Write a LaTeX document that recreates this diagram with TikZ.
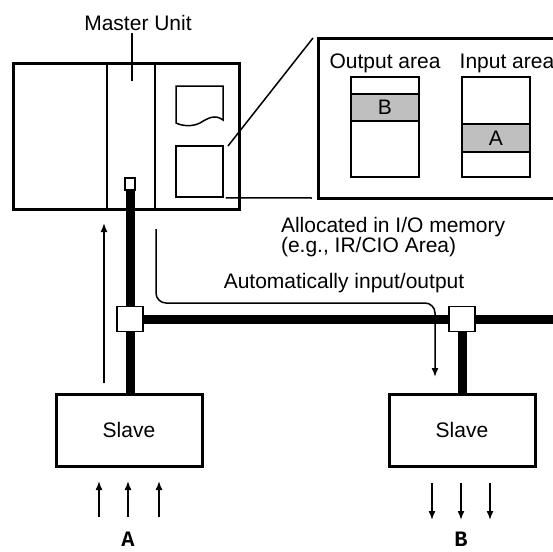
\documentclass[tikz,border=0pt]{standalone}
\usepackage{fontspec}
\setmainfont{Liberation Sans}
\newfontfamily\markfont{Liberation Mono}
\usetikzlibrary{positioning,arrows.meta}

\begin{document}
\begin{tikzpicture}
    [x=0.5pt,y=-0.5pt,font=\fontsize{10.5}{10}\selectfont,
     thickline/.style={line width=1.5pt},
     thinline/.style={line width=0.75pt},
     cable/.style={line width=4.5pt},
     arrow/.style={thinline, -{Latex[length=4.5pt,width=3.5pt]}},
     unitbox/.style={draw, thickline, inner sep=0pt},
     slave/.style={unitbox, minimum width=73pt, minimum height=36pt},
     junction/.style={draw, thinline, fill=white, minimum width=13pt, minimum height=12.5pt, inner sep=0pt},
     column/.style={draw, thinline, minimum width=34pt, minimum height=50pt, inner sep=0pt},
     band/.style={draw, thinline, fill=gray!50, minimum width=34pt, inner sep=0pt},
     iolabel/.style={font=\markfont\bfseries\fontsize{11}{11}\selectfont, inner sep=1pt}]
  \useasboundingbox (0,0) rectangle (553,552);

  % master unit
  \node[unitbox, minimum width=113pt, minimum height=73pt] (master) at (126,136) {};
  \draw[thinline] (107,63) -- (107,209);
  \draw[thinline] (155,63) -- (155,209);
  \node (mlabel) at (138,23) {Master Unit};
  \draw[thinline] (132,33) -- (132,81);
  \draw[thinline] (223,120) .. controls (215,114) and (208,118) .. (200,123)
    .. controls (192,127) and (182,126) .. (176,123) -- (176,86) -- (223,86) -- cycle;
  \node[draw, thinline, minimum width=23.5pt, minimum height=25.5pt, inner sep=0pt] (memsq) at (199.5,171.5) {};
  \node[draw, thinline, minimum width=5pt, minimum height=6pt, inner sep=0pt] (plug) at (130,184) {};

  % memory areas
  \draw[thickline] (600,38) -- (318,38) -- (318,198) -- (600,198);
  \draw[thinline] (228,146) -- (313,38);
  \draw[thinline] (memsq.south east) ++(2,0) -- (312,198);
  \node (outlabel) at (385,63) {Output area};
  \node (inlabel) at (507,63) {Input area};
  \node[column] (outcol) at (385,127) {};
  \node[column] (incol) at (496,127) {};
  \node[band, minimum height=13.5pt] (bandB) at (385,107.5) {B};
  \node[band, minimum height=14pt] (bandA) at (496,138) {A};
  \node[align=left, anchor=north west] (alloc) at (274,210)
    {Allocated in I/O memory\\(e.g., IR/CIO Area)};

  % network
  \node[junction] (j1) at (130,319) {};
  \node[junction] (j2) at (462,319) {};
  \node[slave] (slave1) at (129,430) {Slave};
  \node[slave] (slave2) at (462,430) {Slave};
  \coordinate (busend) at (553,319);
  \draw[cable] (plug.south) -- (j1.north);
  \draw[cable] (j1.south) -- (j1 |- slave1.north);
  \draw[cable] (j1.east) -- (j2.west);
  \draw[cable] (j2.east) -- (busend);
  \draw[cable] (j2.south) -- (slave2.north);

  % data flow
  \coordinate (upstart) at (104,383);
  \coordinate (uptip) at (104,223);
  \draw[arrow] (upstart) -- (uptip);
  \coordinate (autostart) at (156,229);
  \coordinate (autotip) at (435,377);
  \draw[arrow, rounded corners=5pt] (autostart) |- (435,303) -- (autotip);
  \node (autolabel) at (344,283) {Automatically input/output};

  \foreach \x in {99,128,159}
    \draw[arrow] (\x,517) -- (\x,481);
  \foreach \x in {432,461,490}
    \draw[arrow] (\x,483) -- (\x,520);
  \node[iolabel] (inA) at (128,539) {A};
  \node[iolabel] (outB) at (461,539) {B};
\end{tikzpicture}
\end{document}
